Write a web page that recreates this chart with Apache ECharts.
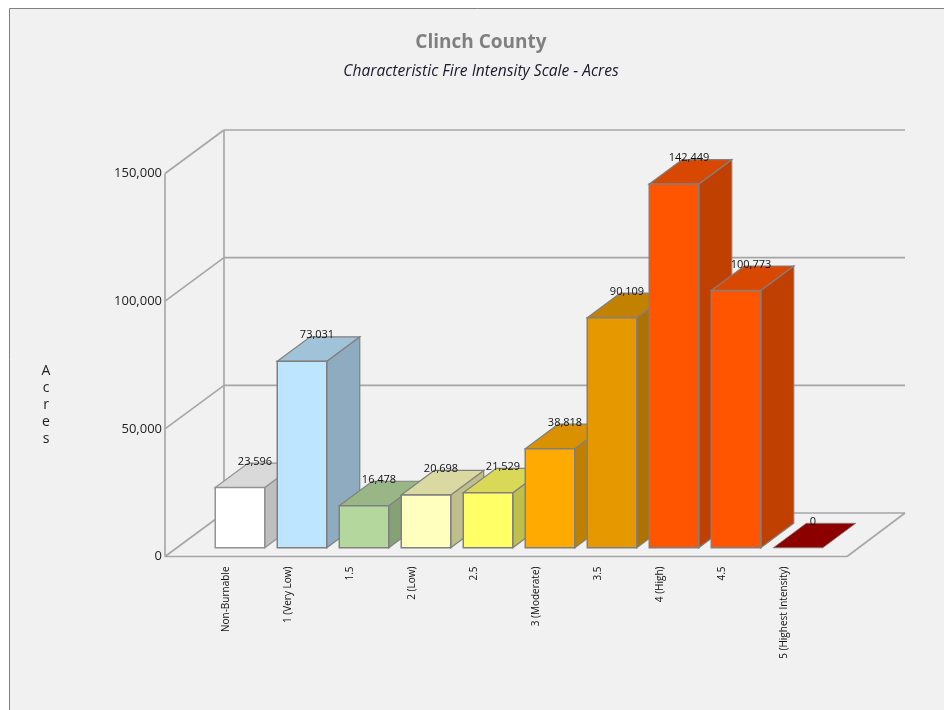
<!DOCTYPE html>
<html>
<head>
<meta charset="utf-8">
<style>html,body{margin:0;padding:0;background:#fff}#c{width:944px;height:710px}</style>
<script src="https://cdn.jsdelivr.net/npm/echarts@6/dist/echarts.min.js"></script>
</head>
<body>
<div id="c"></div>
<script>
const categories = ['Non-Burnable','1 (Very Low)','1.5','2 (Low)','2.5','3 (Moderate)','3.5','4 (High)','4.5','5 (Highest Intensity)'];
const acres = [23596,73031,16478,20698,21529,38818,90109,142449,100773,0];
const frontColors = ['#ffffff','#bee5ff','#b4d79e','#ffffbe','#ffff66','#ffaa00','#e69800','#ff5500','#ff5500','#8c0000'];
const sideColors  = ['#bfbfbf','#8eabbf','#87a177','#bfbf8e','#bfbf4c','#bf8000','#ad7200','#bf4000','#bf4000','#690000'];
const topColors   = ['#d9d9d9','#a1c3d9','#99b786','#d9d9a1','#d9d957','#d99100','#c38100','#d94800','#d94800','#8c0000'];
const yTicks = [0,50000,100000,150000];
const FONT = '"Open Sans","Noto Sans",sans-serif';

const WALL = {dx:59, dy:43.5};      // depth of the 3D box
const BAR  = {dx:33, dy:24.5, w:49.5, sx:14, sy:8.7};

function poly(points, fill, stroke, lw){
  return {type:'polygon', shape:{points}, style:{fill, stroke, lineWidth:lw, lineJoin:'miter'}};
}
function line(a,b){
  return {type:'line', shape:{x1:a[0],y1:a[1],x2:b[0],y2:b[1]}, style:{stroke:'#a6a6a6', lineWidth:1.6, fill:null}};
}

function renderWall(params, api){
  const v = api.value(0);
  const cs = params.coordSys;
  const xL = cs.x - 30, xR = cs.x + cs.width + 32;
  const y = api.coord([0, v])[1];
  const kids = [
    line([xL,y],[xL+WALL.dx,y-WALL.dy]),
    line([xL+WALL.dx,y-WALL.dy],[xR+WALL.dx-1,y-WALL.dy])
  ];
  if (v === 0) {
    const yT = api.coord([0, yTicks[yTicks.length-1]])[1];
    kids.push(line([xL,y],[xL,yT]));
    kids.push(line([xL+WALL.dx,y-WALL.dy],[xL+WALL.dx,yT-WALL.dy]));
    kids.push(line([xL,y],[xR,y]));
    kids.push(line([xR,y],[xR+WALL.dx-1,y-WALL.dy]));
  }
  return {type:'group', children:kids};
}

function renderBar(params, api){
  const i = api.value(0), v = api.value(1);
  const c = api.coord([i, v]), b = api.coord([i, 0]);
  const x0 = c[0] + BAR.sx - BAR.w/2, x1 = x0 + BAR.w;
  const yT = c[1] - BAR.sy, yB = b[1] - BAR.sy;
  const d = BAR;
  const edge = v === 0 ? '#8a7a7a' : (i === 0 ? '#939393' : '#808080');
  const kids = [];
  if (v > 0) kids.push(poly([[x1,yT],[x1+d.dx,yT-d.dy],[x1+d.dx,yB-d.dy],[x1,yB]], sideColors[i], edge, 1.2));
  kids.push(poly([[x0,yT],[x0+d.dx,yT-d.dy],[x1+d.dx,yT-d.dy],[x1,yT]], topColors[i] , edge, v>0?1.2:0.8));
  if (v > 0) kids.push(poly([[x0,yT],[x1,yT],[x1,yB],[x0,yB]], frontColors[i], edge, 1.5));
  kids.push({type:'text', z2:100, x:x0+BAR.w/2+15, y:yT-d.dy-1.5,
    style:{text:v.toLocaleString('en-US'), fill:'#111', font:'11px '+FONT, align:'center', verticalAlign:'middle'}});
  return {type:'group', children:kids};
}

const chart = echarts.init(document.getElementById('c'), null, {renderer:'canvas'});
chart.setOption({
  animation:false,
  backgroundColor:'#ffffff',
  graphic:[{type:'rect', z:-10, silent:true, shape:{x:9.5,y:8.5,width:1000,height:1000},
    style:{fill:'#f1f1f1', stroke:'#808080', lineWidth:1}}],
  title:[
    {text:'Clinch County', left:476, top:28, textAlign:'center',
      textStyle:{fontFamily:FONT, fontSize:19, fontWeight:'bold', color:'#808080'}},
    {text:'Characteristic Fire Intensity Scale - Acres', left:476, top:59, textAlign:'center',
      textStyle:{fontFamily:FONT, fontSize:15.6, fontWeight:'normal', fontStyle:'italic', color:'#1a1a2a'}},
    {text:'A\nc\nr\ne\ns', left:41, top:358, textAlign:'center',
      textStyle:{fontFamily:FONT, fontSize:14, fontWeight:'normal', color:'#222', lineHeight:17}}
  ],
  grid:{left:195, top:173.5, width:620, height:383, containLabel:false},
  xAxis:{type:'category', data:categories, axisLine:{show:false}, axisTick:{show:false}, splitLine:{show:false},
    axisLabel:{interval:0, rotate:90, margin:10, fontFamily:FONT, fontSize:10, color:'#111'}},
  yAxis:{type:'value', min:0, max:150000, interval:50000,
    axisLine:{show:false}, axisTick:{show:false}, splitLine:{show:false},
    axisLabel:{margin:33, fontFamily:FONT, fontSize:13, color:'#222', formatter:v=>v.toLocaleString('en-US')}},
  series:[
    {type:'custom', name:'walls', silent:true, clip:false, z:1, renderItem:renderWall,
      encode:{y:0}, data:yTicks.map(v=>[v])},
    {type:'custom', name:'Acres', silent:true, clip:false, z:2, renderItem:renderBar,
      encode:{x:0,y:1}, data:acres.map((v,i)=>[i,v])}
  ]
});
</script>
</body>
</html>
